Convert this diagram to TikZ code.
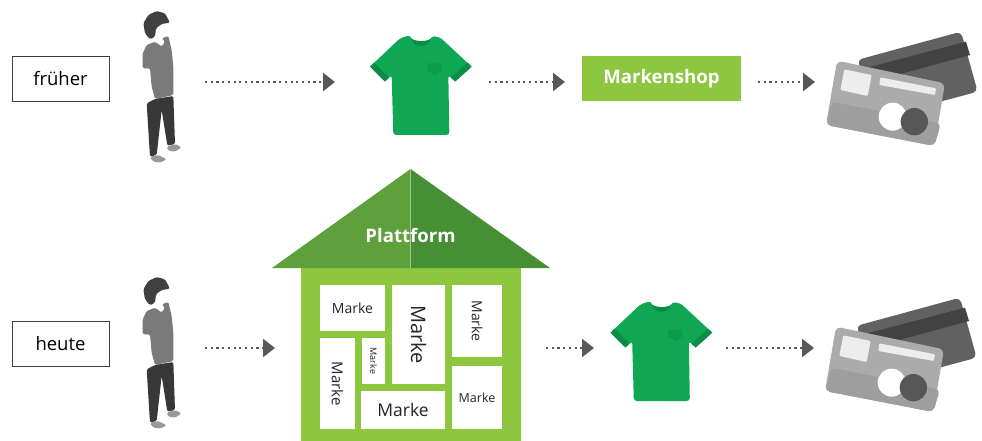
\documentclass[tikz,border=0pt]{standalone}
\usepackage{fontspec}
\setmainfont{Open Sans}
\usepackage{tikz}
\usetikzlibrary{positioning,arrows.meta}

\definecolor{flowgray}{HTML}{58585A}
\definecolor{lime}{HTML}{8DC63F}
\definecolor{roofleft}{HTML}{5EA03B}
\definecolor{roofright}{HTML}{468F35}
\definecolor{shirtgreen}{HTML}{0FA654}
\definecolor{shirtdark}{HTML}{0B8C47}

\tikzset{
	flow/.style={
		draw=flowgray,
		line width=2.4pt,
		dash pattern=on 2.2pt off 3.5pt,
		-{Triangle[length=12pt,width=18pt,fill=flowgray]}},
	era/.style={
		draw=black!75,
		line width=0.9pt,
		minimum width=97pt,
		minimum height=45pt,
		outer sep=0pt,
		font=\fontsize{18.5}{20}\selectfont},
	icon/.style={
		minimum height=100pt,
		inner sep=0pt,
		outer sep=0pt},
	marke/.style={
		fill=white,
		inner sep=0pt,
		outer sep=0pt,
		text=black!85},
	pics/person/.style={code={
		\begin{scope}[scale=1/3,shift={(-129,-246)},rounded corners=1.5pt]
			\fill[black!75] (75,100) -- (70,70) -- (85,45) -- (110,33) -- (135,40) -- (150,68)
				-- (125,72) -- (108,85) -- (105,110) -- (90,118) -- cycle;
			\fill[black!52] (68,160) -- (80,135) -- (105,125) -- (125,140) -- (135,125) -- (125,115)
				-- (145,108) -- (155,150) -- (160,200) -- (160,285) -- (105,297) -- (95,260)
				-- (90,205) -- (68,205) -- cycle;
			\fill[black!78] (80,310) -- (105,297) -- (160,288) -- (165,432) -- (142,437)
				-- (125,330) -- (110,465) -- (90,470) -- cycle;
			\fill[black!40] (140,440) -- (165,432) -- (185,442) -- (165,455) -- (145,452) -- cycle;
			\fill[black!40] (90,470) -- (115,465) -- (140,478) -- (120,488) -- (98,484) -- cycle;
		\end{scope}}},
	pics/tshirt/.style={code={
		\begin{scope}[scale=1/3,shift={(-213,-186)}]
			\fill[shirtgreen,rounded corners=3pt] (180,45) .. controls (188,66) and (236,66) .. (245,48)
				-- (270,52) -- (365,140) -- (315,185) -- (295,165) -- (298,345) -- (130,345) -- (125,165)
				-- (105,185) -- (60,140) -- (150,55) -- cycle;
			\fill[shirtdark] (184,55) .. controls (192,66) and (232,66) .. (241,57)
				.. controls (236,85) and (190,85) .. (184,55) -- cycle;
			\fill[shirtdark] (60,140) -- (72,128) -- (117,173) -- (105,185) -- cycle;
			\fill[shirtdark] (365,140) -- (353,128) -- (303,173) -- (315,185) -- cycle;
			\fill[shirtdark!45!shirtgreen] (232,130) -- (275,130) -- (275,152) -- (254,165) -- (232,152) -- cycle;
		\end{scope}}},
	pics/cards/.style={code={
		\begin{scope}[scale=1/3,shift={(-450,-186)}]
			\fill[black!62,rounded corners=5pt] (318,120) -- (630,35) -- (680,215) -- (400,290) -- cycle;
			\fill[black!74] (330,148) -- (645,65) -- (657,105) -- (345,190) -- cycle;
			\fill[black!33,rounded corners=5pt] (258,122) -- (582,190) -- (550,378) -- (225,315) -- cycle;
			\fill[black!38,rounded corners=5pt] (243,245) -- (570,310) -- (550,378) -- (225,315) -- cycle;
			\fill[black!7,rounded corners=1pt] (280,148) -- (362,165) -- (350,228) -- (268,210) -- cycle;
			\fill[black!7,rounded corners=1pt] (388,172) -- (555,205) -- (552,225) -- (385,195) -- cycle;
			\fill[white] (425,290) circle (42);
			\fill[black!66] (490,305) circle (41);
		\end{scope}}}
}

\begin{document}
\begin{tikzpicture}[x=1pt,y=-1pt]
	\useasboundingbox (0,0) rectangle (982,441);

	% oberer Weg
	\node[era] (frueher) at (60.5,78.5) {früher};
	\node[icon,minimum width=44pt] (man1) at (163,82) {};
	\node[icon,
		right=185pt of man1,
		minimum width=102pt] (shirt1) {};
	\node[fill=lime,
		right=110pt of shirt1,
		yshift=3.5pt,
		minimum width=159pt,
		minimum height=45pt,
		outer sep=0pt,
		text=white,
		font=\fontsize{18.6}{20}\selectfont\bfseries] (shop) {Markenshop};
	\node[icon,
		right=352pt of shirt1,
		minimum width=154pt] (cards1) {};

	% unterer Weg
	\node[era] (heute) at (60.5,344) {heute};
	\node[icon,minimum width=44pt] (man2) at (163,348) {};
	\node[fill=lime,
		minimum width=220pt,
		minimum height=173pt,
		outer sep=0pt,
		inner sep=0pt] (body) at (411,354.5) {};
	\fill[roofleft] (272,268) -- (410.5,169) -- (410.5,268) -- cycle;
	\fill[roofright] (550,268) -- (410.5,169) -- (410.5,268) -- cycle;
	\draw[white,opacity=0.3,line width=0.6pt] (410.5,169) -- (410.5,268);
	\node[text=white,font=\fontsize{18.6}{20}\selectfont\bfseries] (roof) at (410.5,235) {Plattform};
	\node[icon,minimum width=103pt] (shirt2) at (661.5,348) {};
	\node[icon,minimum width=154pt] (cards2) at (900,348) {};

	% Marken im Haus
	\node[marke,
		minimum width=65pt,
		minimum height=46pt,
		font=\fontsize{14}{16}\selectfont] (m1) at (352.5,308) {Marke};
	\node[marke,
		right=7pt of m1.north east,
		anchor=north west,
		minimum width=53pt,
		minimum height=99pt] (m2) {};
	\node[rotate=-90,font=\fontsize{20}{22}\selectfont,text=black!85] (t2) at (m2) {Marke};
	\node[marke,
		right=7pt of m2.north east,
		anchor=north west,
		minimum width=50pt,
		minimum height=72pt] (m3) {};
	\node[rotate=-90,font=\fontsize{14}{16}\selectfont,text=black!85] (t3) at (m3) {Marke};
	\node[marke,minimum width=35pt,minimum height=91pt] (m4) at (337.5,383.5) {};
	\node[rotate=-90,font=\fontsize{15}{17}\selectfont,text=black!85] (t4) at (m4) {Marke};
	\node[marke,minimum width=23pt,minimum height=46pt] (m5) at (373.5,361) {};
	\node[rotate=-90,font=\fontsize{9}{10}\selectfont,text=black!85] (t5) at (m5) {Marke};
	\node[marke,
		minimum width=84pt,
		minimum height=38pt,
		font=\fontsize{17.5}{20}\selectfont] (m6) at (403,410) {Marke};
	\node[marke,
		minimum width=50pt,
		minimum height=63pt,
		font=\fontsize{12.5}{14}\selectfont] (m7) at (477,397.5) {Marke};

	% Bilder
	\pic at (man1.center) {person};
	\pic at (shirt1.center) {tshirt};
	\pic at (cards1.center) {cards};
	\pic at (man2.center) {person};
	\pic at (shirt2.center) {tshirt};
	\pic at (cards2.center) {cards};

	\draw[flow,shorten <=20pt,shorten >=35pt] (man1) -- (shirt1);
	\draw[flow,shorten <=17pt,shorten >=17pt] (shirt1) -- (shirt1 -| shop.west);
	\draw[flow,shorten <=17pt,shorten >=9pt] (shop.east |- cards1) -- (cards1);
	\draw[flow,shorten <=20pt,shorten >=26pt] (man2) -- (man2 -| body.west);
	\draw[flow,shorten <=25pt,shorten >=16pt] (body.east |- shirt2) -- (shirt2);
	\draw[flow,shorten <=13pt,shorten >=9pt] (shirt2) -- (cards2);
\end{tikzpicture}
\end{document}
